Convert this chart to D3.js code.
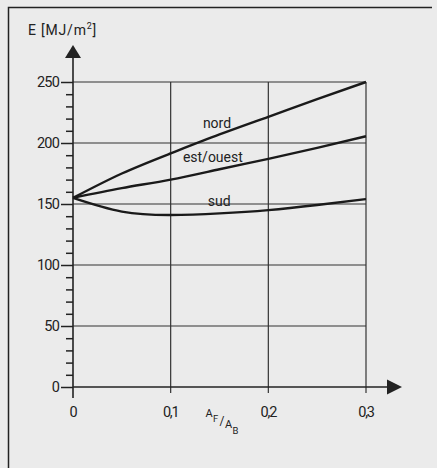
<!DOCTYPE html>
<html>
<head>
<meta charset="utf-8">
<script src="https://cdn.jsdelivr.net/npm/d3@7"></script>
<style>
  body { margin: 0; background: #ebebeb; }
  svg { display: block; }
  text { font-family: Roboto, "DejaVu Sans", sans-serif; fill: #222; }
</style>
</head>
<body>
<script>
//constants
const w = 437;
const h = 468;

//data
const xVals = [0, 0.05, 0.1, 0.15, 0.2, 0.25, 0.3];
const nord = [155, 175, 191.5, 207, 221.5, 236, 250];
const estOuest = [155, 163, 170, 178.5, 187, 196, 205.5];
const sud = [155, 143.8, 141, 142.3, 145, 149.2, 154];
const seriesNames = ["nord", "est/ouest", "sud"];

const yTicks = [0, 50, 100, 150, 200, 250];
const xTicks = [0, 0.1, 0.2, 0.3];
const xTickLabels = ["0", "0,1", "0,2", "0,3"];

const xScale = d3.scaleLinear().domain([0, 0.3]).range([73, 366]);
const yScale = d3.scaleLinear().domain([0, 250]).range([387, 82]);

const svg = d3.select("body")
  .append("svg")
  .attr("width", w)
  .attr("height", h);

//frame
svg.append("path")
  .attr("d", "M8.5," + h + "V7.5H432")
  .attr("fill", "none")
  .attr("stroke", "#222")
  .attr("stroke-width", 1.5);

//grid
svg.append("g")
  .selectAll("line")
  .data(yTicks.slice(1))
  .enter()
  .append("line")
  .attr("x1", xScale(0))
  .attr("x2", xScale(0.3))
  .attr("y1", d => yScale(d))
  .attr("y2", d => yScale(d))
  .attr("stroke", "#333")
  .attr("stroke-width", 1.2);

svg.append("g")
  .selectAll("line")
  .data(xTicks.slice(1))
  .enter()
  .append("line")
  .attr("x1", d => xScale(d))
  .attr("x2", d => xScale(d))
  .attr("y1", yScale(250))
  .attr("y2", yScale(0) + 6)
  .attr("stroke", "#333")
  .attr("stroke-width", 1.2);

//y axis ticks
const yAxis = d3.axisLeft(yScale)
  .tickValues(yTicks)
  .tickSize(12)
  .tickPadding(2)
  .tickFormat(d3.format("d"));

const minor = d3.range(10, 250, 10).filter(d => d % 50 != 0);
const yMinor = d3.axisLeft(yScale)
  .tickValues(minor)
  .tickSize(7)
  .tickFormat("");

const gy = svg.append("g")
  .attr("transform", "translate(" + xScale(0) + ",0)")
  .call(yAxis);
svg.append("g")
  .attr("transform", "translate(" + xScale(0) + ",0)")
  .call(yMinor);

svg.selectAll(".domain").remove();
svg.selectAll(".tick line").attr("stroke", "#222").attr("stroke-width", 1.5);
gy.selectAll(".tick text")
  .attr("font-size", 14.5)
  .attr("letter-spacing", -0.8)
  .attr("fill", "#222");

//x tick labels
svg.append("g")
  .selectAll("text")
  .data(xTicks)
  .enter()
  .append("text")
  .attr("x", d => xScale(d))
  .attr("y", 417)
  .attr("text-anchor", "middle")
  .attr("font-size", 14.5)
  .attr("letter-spacing", -1.2)
  .text((d, i) => xTickLabels[i]);

//axis lines
svg.append("line")
  .attr("x1", xScale(0)).attr("x2", xScale(0))
  .attr("y1", yScale(0) + 11).attr("y2", 56)
  .attr("stroke", "#222").attr("stroke-width", 1.6);
svg.append("line")
  .attr("x1", xScale(0)).attr("x2", 390)
  .attr("y1", yScale(0)).attr("y2", yScale(0))
  .attr("stroke", "#222").attr("stroke-width", 1.6);

//arrow heads
const x0 = xScale(0), y0 = yScale(0);
svg.append("path")
  .attr("d", "M" + x0 + ",45L" + (x0 + 8) + ",58L" + (x0 - 8) + ",58Z")
  .attr("fill", "#222");
svg.append("path")
  .attr("d", "M402," + y0 + "L387," + (y0 - 7.5) + "L387," + (y0 + 7.5) + "Z")
  .attr("fill", "#222");

//curves
const line = d3.line()
  .x((d, i) => xScale(xVals[i]))
  .y(d => yScale(d))
  .curve(d3.curveNatural);

svg.append("g")
  .selectAll("path")
  .data([nord, estOuest, sud])
  .enter()
  .append("path")
  .attr("d", line)
  .attr("fill", "none")
  .attr("stroke", "#1a1a1a")
  .attr("stroke-width", 2.4);

//curve labels
const labelPos = [[0.133, 212.7], [0.1125, 184.4], [0.138, 148.4]];
svg.append("g")
  .selectAll("text")
  .data(seriesNames)
  .enter()
  .append("text")
  .attr("x", (d, i) => xScale(labelPos[i][0]))
  .attr("y", (d, i) => yScale(labelPos[i][1]))
  .attr("font-size", 14)
  .text(d => d);

//axis titles
const yt = svg.append("text")
  .attr("x", 28)
  .attr("y", 35)
  .attr("font-size", 14)
  .attr("letter-spacing", 0.8);
yt.append("tspan").text("E [MJ/m");
yt.append("tspan").attr("font-size", 9).attr("dy", -6).text("2");
yt.append("tspan").attr("dy", 6).text("]");

const xt = svg.append("text").attr("font-size", 11);
xt.append("tspan").attr("x", 205.5).attr("y", 416.5).text("A");
xt.append("tspan").attr("x", 213).attr("y", 422).attr("font-size", 9.5).text("F");
xt.append("tspan").attr("x", 219.5).attr("y", 425).attr("font-size", 12).text("/");
xt.append("tspan").attr("x", 225).attr("y", 427.5).text("A");
xt.append("tspan").attr("x", 232.5).attr("y", 434).attr("font-size", 9.5).text("B");
</script>
</body>
</html>
